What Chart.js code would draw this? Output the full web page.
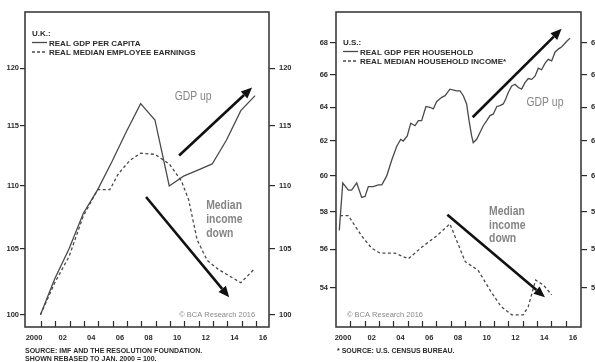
<!DOCTYPE html>
<html>
<head>
<meta charset="utf-8">
<script src="https://cdn.jsdelivr.net/npm/chart.js@4.4.1/dist/chart.umd.min.js"></script>
<style>
  html, body { margin: 0; padding: 0; background: #fff; }
  #wrap { position: relative; width: 595px; height: 362px; overflow: hidden; background: #fff; }
  #wrap canvas { position: absolute; top: 0; }
</style>
</head>
<body>
<div id="wrap">
  <canvas id="uk" width="297" height="362" style="left:0;width:297px;height:362px"></canvas>
  <canvas id="us" width="298" height="362" style="left:297px;width:298px;height:362px"></canvas>
</div>
<script>
// ---- U.K. (annual, Jan 2000 = 100) ----
const UK_GDP_YEARS = [2000.45, 2001.45, 2002.45, 2003.45, 2004.45, 2005.45, 2006.45, 2007.45,
                      2008.45, 2009.45, 2010.45, 2011.45, 2012.45, 2013.45, 2014.45, 2015.45];
const UK_GDP = [100, 102.7, 105.0, 107.8, 109.7, 112.0, 114.5, 116.9,
                115.5, 110.0, 110.8, 111.3, 111.8, 113.8, 116.3, 117.6];

const UK_PAY_YEARS = [2000.45, 2001.45, 2002.45, 2003.45, 2004.45, 2005.3, 2005.9, 2006.7, 2007.45,
                      2008.45, 2009.45, 2010.3, 2010.8, 2011.4, 2012.1, 2012.9, 2014.45, 2015.45];
const UK_PAY = [100, 102.4, 104.4, 107.6, 109.7, 109.7, 111.0, 112.1, 112.7,
                112.6, 111.8, 110.4, 108.9, 105.7, 104.1, 103.4, 102.4, 103.5];

// ---- U.S. (thousands of dollars) ----
const US_GDP_YEARS = [1999.74, 1999.98, 2000.37, 2000.6, 2000.95, 2001.3, 2001.53, 2001.76, 2002.1,
  2002.46, 2002.7, 2003.04, 2003.39, 2003.74, 2004.01, 2004.19, 2004.47, 2004.71, 2005.01, 2005.24,
  2005.47, 2005.77, 2006.05, 2006.28, 2006.52, 2006.87, 2007.1, 2007.44, 2007.91, 2008.14, 2008.37,
  2008.6, 2008.77, 2008.95, 2009.06, 2009.3, 2009.53, 2009.76, 2010.0, 2010.23, 2010.46, 2010.7,
  2010.92, 2011.15, 2011.32, 2011.5, 2011.74, 2011.97, 2012.2, 2012.43, 2012.66, 2012.89, 2013.13,
  2013.36, 2013.59, 2013.82, 2014.05, 2014.28, 2014.52, 2014.75, 2014.98, 2015.22, 2015.57, 2015.8];
const US_GDP = [57.0, 59.6, 59.2, 59.2, 59.6, 58.8, 58.85, 59.4, 59.4,
  59.5, 59.5, 60.0, 60.9, 61.7, 62.1, 62.0, 62.3, 63.05, 62.9, 63.2,
  63.2, 64.05, 64.0, 63.9, 64.35, 64.6, 64.7, 65.1, 65.0, 65.0, 64.7,
  64.2, 63.2, 62.3, 61.9, 62.1, 62.5, 62.9, 63.2, 63.5, 63.6, 64.05,
  64.1, 64.2, 64.5, 64.9, 65.3, 65.4, 65.2, 65.1, 65.5, 65.75, 65.7,
  65.9, 66.4, 66.3, 66.7, 66.95, 66.85, 67.4, 67.6, 67.75, 68.1, 68.3];

const US_INC_YEARS = [1999.79, 2000.37, 2000.7, 2001.3, 2002.0, 2002.57, 2003.6, 2004.54, 2005.47,
  2006.5, 2007.44, 2008.5, 2009.4, 2010.3, 2011.0, 2011.74, 2012.54, 2012.89, 2013.4, 2013.94, 2014.52];
const US_INC = [57.8, 57.8, 57.4, 56.7, 56.05, 55.8, 55.8, 55.5, 56.1,
  56.7, 57.35, 55.35, 54.9, 53.8, 53.06, 52.65, 52.65, 53.06, 54.4, 54.15, 53.65];

// ---- axis ticks ----
const YEAR_LABELS = [2000, 2002, 2004, 2006, 2008, 2010, 2012, 2014, 2016];
const YEAR_MARKS = [2000.5, 2001.5, 2002.5, 2003.5, 2004.5, 2005.5, 2006.5, 2007.5,
                    2008.5, 2009.5, 2010.5, 2011.5, 2012.5, 2013.5, 2014.5, 2015.5];
const UK_Y_TICKS = [100, 105, 110, 115, 120];
const US_Y_TICKS = [54, 56, 58, 60, 62, 64, 66, 68];

const INK = '#2b2b2b';
const LINE = '#4a4a4a';
const NOTE = '#858585';
const SANS = "'Liberation Sans', Arial, sans-serif";
const TICK_FONT = { family: SANS, size: 7.5, weight: 'bold' };

const pts = (xs, ys) => xs.map((x, i) => ({ x, y: ys[i] }));

// condensed lettering: squeeze the text horizontally around its anchor
function narrowText(ctx, text, px, py, squeeze) {
  ctx.save();
  ctx.translate(px, py);
  ctx.scale(squeeze, 1);
  ctx.fillText(text, 0, 0);
  ctx.restore();
}

// draws the frame, inward year marks, legend, arrows and notes
const decoPlugin = {
  id: 'deco',
  afterDatasetsDraw(chart, args, o) {
    const { ctx, chartArea: a } = chart;
    const x = chart.scales.x, y = chart.scales.y;
    const X = v => x.getPixelForValue(v), Y = v => y.getPixelForValue(v);
    ctx.save();

    // year marks pointing into the plot
    ctx.strokeStyle = INK; ctx.lineWidth = 1.2;
    YEAR_MARKS.forEach(v => {
      const px = Math.round(X(v)) + 0.5;
      ctx.beginPath(); ctx.moveTo(px, a.bottom); ctx.lineTo(px, a.bottom - 6); ctx.stroke();
    });

    // frame
    ctx.lineWidth = 1.6; ctx.strokeStyle = '#3c3c3c';
    ctx.strokeRect(a.left, a.top, a.right - a.left, a.bottom - a.top);

    // legend
    const lx = a.left + 7, ly = a.top + o.legendTop;
    ctx.fillStyle = INK; ctx.textBaseline = 'middle'; ctx.textAlign = 'left';
    ctx.font = `bold 8px ${SANS}`;
    ctx.fillText(o.title, lx, ly);
    o.items.forEach((label, i) => {
      const iy = ly + 9.5 * (i + 1);
      ctx.strokeStyle = LINE; ctx.lineWidth = 1.3;
      ctx.setLineDash(i === 1 ? [3, 2] : []);
      ctx.beginPath(); ctx.moveTo(lx, iy - 1); ctx.lineTo(lx + 15, iy - 1); ctx.stroke();
      ctx.setLineDash([]);
      ctx.fillText(label, lx + 17, iy);
    });

    // arrows
    ctx.fillStyle = '#111'; ctx.strokeStyle = '#111'; ctx.lineWidth = 2.6;
    o.arrows.forEach(([x0, y0, x1, y1]) => {
      const p0 = [X(x0), Y(y0)], p1 = [X(x1), Y(y1)];
      const ang = Math.atan2(p1[1] - p0[1], p1[0] - p0[0]);
      const hl = 11, hw = 4.8;
      const bx = p1[0] - hl * Math.cos(ang), by = p1[1] - hl * Math.sin(ang);
      ctx.beginPath(); ctx.moveTo(p0[0], p0[1]); ctx.lineTo(bx, by); ctx.stroke();
      ctx.beginPath();
      ctx.moveTo(p1[0], p1[1]);
      ctx.lineTo(bx + hw * Math.sin(ang), by - hw * Math.cos(ang));
      ctx.lineTo(bx - hw * Math.sin(ang), by + hw * Math.cos(ang));
      ctx.closePath(); ctx.fill();
    });

    // notes
    ctx.fillStyle = NOTE;
    ctx.font = `13px ${SANS}`; ctx.textAlign = 'center';
    narrowText(ctx, 'GDP up', X(o.gdpNote[0]), Y(o.gdpNote[1]), 0.8);
    ctx.font = `bold 13px ${SANS}`; ctx.textAlign = 'left';
    ['Median', 'income', 'down'].forEach((t, i) => {
      narrowText(ctx, t, X(o.incNote[0]), Y(o.incNote[1]) + i * o.incStep, 0.8);
    });

    ctx.fillStyle = '#8a8a8a'; ctx.textAlign = 'center';
    ctx.font = `7.5px ${SANS}`;
    ctx.fillText('\u00A9 BCA Research 2016', X(o.copy[0]), Y(o.copy[1]));

    // source lines
    ctx.fillStyle = INK; ctx.textAlign = 'left';
    ctx.font = `bold 7px ${SANS}`;
    o.source.forEach((t, i) => ctx.fillText(t, a.left + o.sourceDx, a.bottom + 24 + i * 8));

    ctx.restore();
  }
};

function makeChart(id, cfg) {
  const yAxis = (pos, width, tl, pad) => ({
    type: 'logarithmic', position: pos, min: cfg.yMin, max: cfg.yMax, bounds: 'data',
    afterBuildTicks: s => { s.ticks = cfg.yTicks.map(v => ({ value: v })); },
    afterFit: s => { s.width = width; },
    ticks: { callback: v => String(v), font: TICK_FONT, color: INK, padding: pad, autoSkip: false },
    grid: { drawOnChartArea: false, drawTicks: true, tickLength: tl, color: INK, lineWidth: 1.2 },
    border: { display: false }
  });
  return new Chart(document.getElementById(id), {
    type: 'line',
    data: {
      datasets: [
        { data: pts(cfg.gdpX, cfg.gdp), borderColor: LINE, borderWidth: 1.3, pointRadius: 0, tension: 0 },
        { data: pts(cfg.incX, cfg.inc), borderColor: LINE, borderWidth: 1.3, borderDash: [3, 2.5],
          pointRadius: 0, tension: 0 }
      ]
    },
    options: {
      responsive: false, animation: false, devicePixelRatio: 1,
      layout: { padding: { top: 12, left: 0, right: 0, bottom: 0 } },
      plugins: { legend: { display: false }, tooltip: { enabled: false }, deco: cfg.deco },
      scales: {
        x: {
          type: 'linear', position: 'bottom', min: cfg.xMin, max: cfg.xMax, bounds: 'data',
          afterBuildTicks: s => { s.ticks = YEAR_LABELS.map(v => ({ value: v })); },
          afterFit: s => { s.height = 35; },
          ticks: {
            callback: v => v === 2000 ? '2000' : String(v % 100).padStart(2, '0'),
            font: TICK_FONT, color: INK, padding: 6, maxRotation: 0, autoSkip: false
          },
          grid: { display: false, drawTicks: false }, border: { display: false }
        },
        y: yAxis('left', cfg.leftW, cfg.leftTick, cfg.leftPad),
        y2: yAxis('right', cfg.rightW, 6, 4)
      }
    },
    plugins: [decoPlugin]
  });
}

makeChart('uk', {
  gdpX: UK_GDP_YEARS, gdp: UK_GDP, incX: UK_PAY_YEARS, inc: UK_PAY,
  xMin: 1999.37, xMax: 2016.42, yMin: 99.1, yMax: 125.1, yTicks: UK_Y_TICKS,
  leftW: 25, leftTick: 5, leftPad: 1, rightW: 28,
  deco: {
    title: 'U.K.:', legendTop: 22,
    items: ['REAL GDP PER CAPITA', 'REAL MEDIAN EMPLOYEE EARNINGS'],
    arrows: [[2010.14, 112.5, 2015.24, 118.3], [2007.83, 109.1, 2013.64, 101.3]],
    gdpNote: [2011.12, 117.5], incNote: [2012.03, 108.46], incStep: 14,
    copy: [2012.8, 100.0],
    source: ['SOURCE: IMF AND THE RESOLUTION FOUNDATION.', 'SHOWN REBASED TO JAN. 2000 = 100.'],
    sourceDx: 0
  }
});

makeChart('us', {
  gdpX: US_GDP_YEARS, gdp: US_GDP, incX: US_INC_YEARS, inc: US_INC,
  xMin: 1999.51, xMax: 2016.56, yMin: 52.05, yMax: 70.0, yTicks: US_Y_TICKS,
  leftW: 39, leftTick: 6, leftPad: 2, rightW: 14,
  deco: {
    title: 'U.S.:', legendTop: 31,
    items: ['REAL GDP PER HOUSEHOLD', 'REAL MEDIAN HOUSEHOLD INCOME*'],
    arrows: [[2009.02, 63.4, 2015.21, 68.9], [2007.26, 57.84, 2014.05, 53.53]],
    gdpNote: [2014.05, 64.27], incNote: [2010.16, 58.02], incStep: 13.5,
    copy: [2002.92, 52.65],
    source: ['* SOURCE: U.S. CENSUS BUREAU.'],
    sourceDx: 1
  }
});
</script>
</body>
</html>
